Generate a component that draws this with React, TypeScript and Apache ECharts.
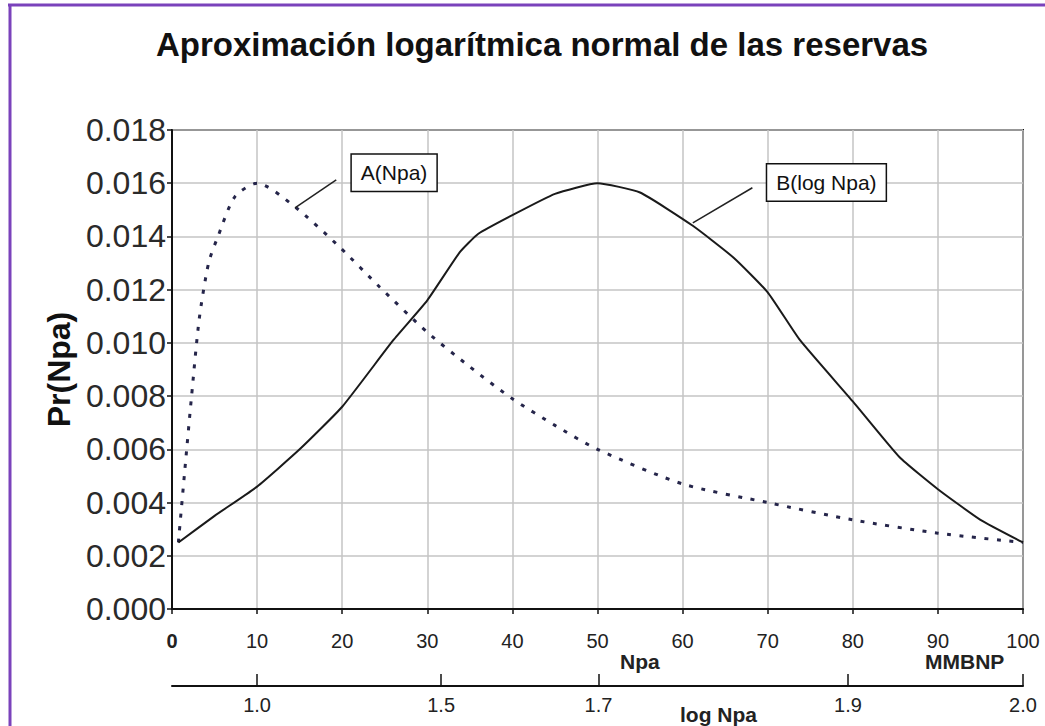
import React, { useEffect, useRef } from 'react';
import * as echarts from 'echarts';

const TITLE = 'Aproximación logarítmica normal de las reservas';
const Y_NAME = 'Pr(Npa)';
const X_NAME = 'Npa';
const X_UNIT = 'MMBNP';
const LOG_NAME = 'log Npa';

// Series A(Npa) – dotted
const aNpa = [0.75, 1.5, 2.3, 3.2, 4.3, 5.4, 7.4, 10, 14.5, 19.7, 24.4, 30, 35, 40, 45, 50, 60, 70, 80, 90, 100];
const aPr = [0.0025, 0.0052, 0.008, 0.0109, 0.013, 0.014, 0.0155, 0.016, 0.0151, 0.0136, 0.0121, 0.0104, 0.0091, 0.0079, 0.0069, 0.006, 0.0047, 0.004, 0.00335, 0.00285, 0.0025];

// Series B(log Npa) – solid
const bNpa = [0.75, 5, 10, 15, 20, 26, 30, 33.8, 36, 40, 45, 50, 55, 61.2, 66, 70, 73.8, 80, 85.5, 90, 95, 100];
const bPr = [0.0025, 0.0035, 0.0046, 0.006, 0.0076, 0.0101, 0.0116, 0.0134, 0.0141, 0.0148, 0.0156, 0.016, 0.01565, 0.0144, 0.0132, 0.0119, 0.0101, 0.0078, 0.0057, 0.0045, 0.00335, 0.0025];

// secondary (log) axis tick labels
const logTicks = [1.0, 1.5, 1.7, 1.9, 2.0];

// annotation callouts (data coordinates)
const annA = { text: 'A(Npa)', from: [14.45, 0.01507], to: [19.3, 0.01613], box: [26.1, 0.01639] };
const annB = { text: 'B(log Npa)', from: [61.2, 0.01451], to: [68.2, 0.01583], box: [76.9, 0.01603] };

const FONT = '"Liberation Sans", Arial, Helvetica, sans-serif';

function callout(ann: any) {
  return {
    markLine: {
      silent: true,
      symbol: ['none', 'none'],
      label: { show: false },
      lineStyle: { type: 'solid', color: '#222', width: 1.5 },
      data: [[{ coord: ann.from }, { coord: ann.to }]],
    },
    markPoint: {
      silent: true,
      symbol: 'circle',
      symbolSize: 1,
      itemStyle: { color: 'rgba(0,0,0,0)' },
      label: {
        show: true,
        position: 'inside',
        formatter: ann.text,
        fontFamily: FONT,
        fontSize: 21,
        color: '#111',
        backgroundColor: '#fff',
        borderColor: '#111',
        borderWidth: 1.5,
        padding: [8, 9, 7, 9],
      },
      data: [{ coord: ann.box }],
    },
  };
}

export default function App() {
  const ref = useRef<HTMLDivElement>(null);
  useEffect(() => {
    if (!ref.current) return;
    const chart = echarts.init(ref.current, null, { renderer: 'svg' });
    const option: any = {
      animation: false,
      backgroundColor: '#fff',
      textStyle: { fontFamily: FONT },
      title: {
        text: TITLE,
        left: 151,
        top: 23,
        textStyle: { fontFamily: FONT, fontSize: 33, fontWeight: 'bold', color: '#111' },
      },
      grid: {
        left: 172,
        right: 22,
        top: 130,
        bottom: 117,
        show: true,
        borderColor: '#111',
        borderWidth: 2,
        backgroundColor: '#fff',
      },
      xAxis: [
        {
          type: 'value',
          min: 0,
          max: 100,
          interval: 10,
          axisLine: { lineStyle: { color: '#111', width: 2 } },
          axisTick: { show: true, length: 5, lineStyle: { color: '#111', width: 1.5 } },
          splitLine: { show: true, lineStyle: { color: '#c4c4c4', width: 1.5 } },
          axisLabel: {
            margin: 22,
            fontSize: 20,
            color: '#222',
            fontFamily: FONT,
            formatter: (v: number) => (v === 0 ? '{b|0}' : String(v)),
            rich: { b: { fontWeight: 'bold', fontSize: 20, color: '#222', fontFamily: FONT } },
          },
        },
        {
          type: 'value',
          position: 'bottom',
          offset: 77,
          min: 0,
          max: 100,
          axisLine: { lineStyle: { color: '#111', width: 2 } },
          axisTick: {
            show: true,
            inside: true,
            length: 12,
            customValues: logTicks.map((v) => Math.pow(10, v)),
            lineStyle: { color: '#111', width: 1.5 },
          },
          splitLine: { show: false },
          axisLabel: {
            margin: 9,
            fontSize: 20,
            color: '#222',
            fontFamily: FONT,
            customValues: logTicks.map((v) => Math.pow(10, v)),
            formatter: (v: number) => Math.log10(v).toFixed(1),
          },
        },
      ],
      yAxis: {
        type: 'value',
        min: 0,
        max: 0.018,
        interval: 0.002,
        name: Y_NAME,
        nameLocation: 'middle',
        nameGap: 94,
        nameTextStyle: { fontFamily: FONT, fontSize: 32, fontWeight: 'bold', color: '#111' },
        axisLine: { show: true, lineStyle: { color: '#111', width: 2 } },
        axisTick: { show: true, length: 5, lineStyle: { color: '#111', width: 1.5 } },
        splitLine: { show: true, lineStyle: { color: '#c4c4c4', width: 1.5 } },
        axisLabel: {
          margin: 6,
          fontSize: 32,
          color: '#2a2a2a',
          fontFamily: FONT,
          formatter: (v: number) => v.toFixed(3),
        },
      },
      series: [
        {
          name: 'A(Npa)',
          type: 'line',
          data: aNpa.map((x, i) => [x, aPr[i]]),
          showSymbol: false,
          smooth: 0.25,
          lineStyle: { color: '#25254a', width: 3, type: [4, 8.5] },
          z: 3,
          ...callout(annA),
        },
        {
          name: 'B(log Npa)',
          type: 'line',
          data: bNpa.map((x, i) => [x, bPr[i]]),
          showSymbol: false,
          smooth: 0.15,
          lineStyle: { color: '#1a1a1a', width: 2 },
          z: 3,
          ...callout(annB),
        },
      ],
      graphic: [
        { type: 'line', shape: { x1: 8, y1: 5, x2: 1045, y2: 5 }, style: { stroke: '#7a42bb', lineWidth: 3 } },
        { type: 'line', shape: { x1: 10, y1: 4, x2: 10, y2: 726 }, style: { stroke: '#7a42bb', lineWidth: 3 } },
        { type: 'text', left: 620, top: 651, style: { text: X_NAME, font: `bold 21px ${FONT}`, fill: '#222' } },
        { type: 'text', left: 925, top: 651, style: { text: X_UNIT, font: `bold 21px ${FONT}`, fill: '#222' } },
        { type: 'text', left: 680, top: 704, style: { text: LOG_NAME, font: `bold 21px ${FONT}`, fill: '#222' } },
      ],
    };
    chart.setOption(option);
    return () => chart.dispose();
  }, []);
  return (
    <div
      ref={ref}
      style={{ position: 'absolute', left: 0, top: 0, width: 1045, height: 726, background: '#fff' }}
    />
  );
}
